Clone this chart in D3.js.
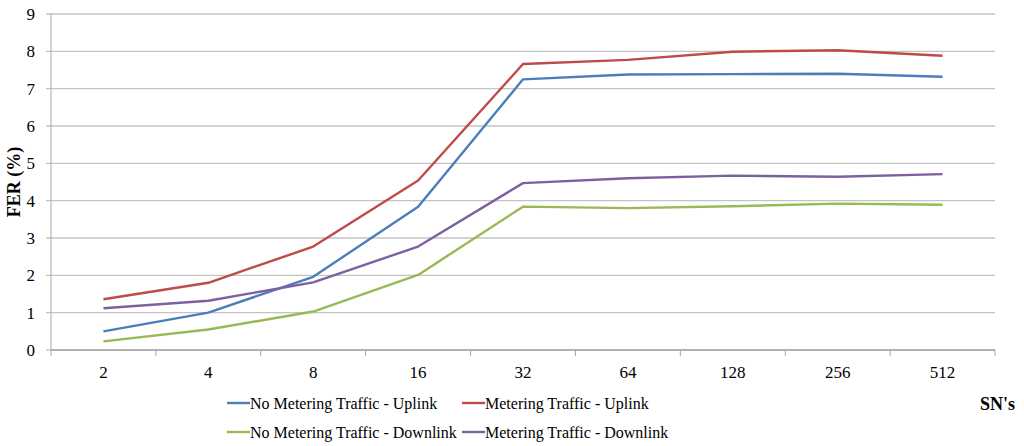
<!DOCTYPE html>
<html lang="en">
<head>
  <meta charset="UTF-8" />
  <title>FER vs SN's</title>
  <style>
    body { margin: 0; background: #fff; }
    svg { display: block; }
    svg text { font-family: 'Liberation Serif', 'Times New Roman', serif; }
  </style>
</head>
<body>
  <svg width="1024" height="446"></svg>

  <script src="https://d3js.org/d3.v7.min.js"></script>

  <script>
    // Number of SNs (category axis)
    const categories = ['2', '4', '8', '16', '32', '64', '128', '256', '512'];

    // FER (%)
    const noMeterUp   = [0.50, 1.00, 1.96, 3.84, 7.25, 7.38, 7.39, 7.40, 7.32];
    const meterUp     = [1.36, 1.80, 2.77, 4.54, 7.66, 7.77, 7.99, 8.03, 7.88];
    const noMeterDown = [0.23, 0.55, 1.03, 2.01, 3.84, 3.80, 3.85, 3.92, 3.89];
    const meterDown   = [1.12, 1.32, 1.81, 2.77, 4.47, 4.60, 4.67, 4.64, 4.71];

    const yTicks = [0, 1, 2, 3, 4, 5, 6, 7, 8, 9];

    const series = [
      { name: 'No Metering Traffic - Uplink',   values: noMeterUp,   color: '#4a7ebb' },
      { name: 'Metering Traffic - Uplink',      values: meterUp,     color: '#be4b48' },
      { name: 'No Metering Traffic - Downlink', values: noMeterDown, color: '#98b954' },
      { name: 'Metering Traffic - Downlink',    values: meterDown,   color: '#7d60a0' }
    ];

    const FONT = "'Liberation Serif', 'Times New Roman', serif";
    const plot = { left: 51, right: 995, top: 14, bottom: 350 };
    const svg = d3.select('svg');
    const root = svg.append('g').attr('font-family', FONT);

    const x = d3.scaleBand().domain(categories).range([plot.left, plot.right]);
    const y = d3.scaleLinear().domain([0, 9]).range([plot.bottom, plot.top]);

    // horizontal gridlines + y tick marks
    root.append('g')
      .selectAll('line')
      .data(yTicks)
      .enter().append('line')
      .attr('x1', plot.left - 5)
      .attr('x2', plot.right)
      .attr('y1', d => y(d))
      .attr('y2', d => y(d))
      .attr('stroke', '#c3c3c3')
      .attr('stroke-width', 1.3);

    // y axis line
    root.append('line')
      .attr('x1', plot.left).attr('x2', plot.left)
      .attr('y1', plot.top).attr('y2', plot.bottom)
      .attr('stroke', '#a6a6a6').attr('stroke-width', 1);

    // y tick labels
    root.append('g')
      .selectAll('text')
      .data(yTicks)
      .enter().append('text')
      .attr('x', 35)
      .attr('y', d => y(d))
      .attr('dy', '0.35em')
      .attr('text-anchor', 'end')
      .attr('font-size', 17)
      .text(d => d);

    // x axis with ticks at category boundaries
    root.append('line')
      .attr('x1', plot.left).attr('x2', plot.right)
      .attr('y1', plot.bottom).attr('y2', plot.bottom)
      .attr('stroke', '#a6a6a6').attr('stroke-width', 1.3);

    const bounds = categories.map(c => x(c)).concat([plot.right]);
    root.append('g')
      .selectAll('line')
      .data(bounds)
      .enter().append('line')
      .attr('x1', d => d).attr('x2', d => d)
      .attr('y1', plot.bottom).attr('y2', plot.bottom + 6)
      .attr('stroke', '#a6a6a6').attr('stroke-width', 1);

    root.append('g')
      .selectAll('text')
      .data(categories)
      .enter().append('text')
      .attr('x', d => x(d) + x.bandwidth() / 2)
      .attr('y', 378)
      .attr('text-anchor', 'middle')
      .attr('font-size', 17)
      .text(d => d);

    // series lines
    const line = d3.line()
      .x((d, i) => x(categories[i]) + x.bandwidth() / 2)
      .y(d => y(d));

    root.append('g')
      .selectAll('path')
      .data(series)
      .enter().append('path')
      .attr('d', d => line(d.values))
      .attr('fill', 'none')
      .attr('stroke', d => d.color)
      .attr('stroke-width', 2.4)
      .attr('stroke-linejoin', 'round');

    // axis titles
    root.append('text')
      .attr('transform', 'translate(20,182) rotate(-90)')
      .attr('text-anchor', 'middle')
      .attr('font-size', 18)
      .attr('font-weight', 'bold')
      .text('FER (%)');

    root.append('text')
      .attr('x', 1015)
      .attr('y', 410)
      .attr('text-anchor', 'end')
      .attr('font-size', 18)
      .attr('font-weight', 'bold')
      .text("SN's");

    // legend, two columns
    const legendPos = [[227, 403], [462, 403], [227, 432], [462, 432]];
    const legend = root.append('g')
      .selectAll('g')
      .data(series)
      .enter().append('g')
      .attr('transform', (d, i) => 'translate(' + legendPos[i][0] + ',' + legendPos[i][1] + ')');

    legend.append('line')
      .attr('x1', 0).attr('x2', 23)
      .attr('y1', 0).attr('y2', 0)
      .attr('stroke', d => d.color)
      .attr('stroke-width', 2.4);

    legend.append('text')
      .attr('x', 23)
      .attr('dy', '0.35em')
      .attr('font-size', 16)
      .text(d => d.name);
  </script>
</body>
</html>
